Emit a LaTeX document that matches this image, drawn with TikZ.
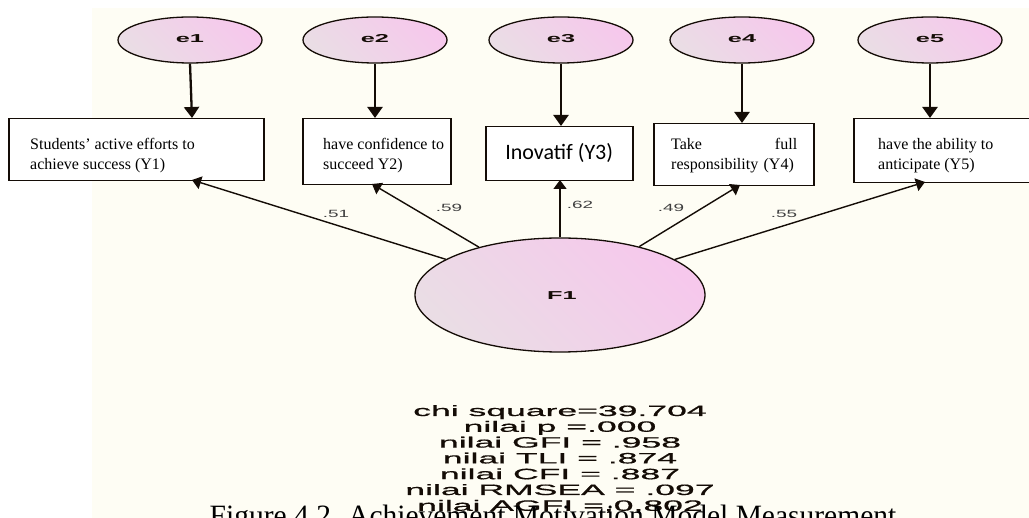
\documentclass[tikz,border=0pt]{standalone}
\usepackage{fontspec}
\usepackage{graphicx}
\setmainfont{Liberation Serif}
\newfontfamily\arial{Liberation Sans}
\newfontfamily\arialfb[FakeBold=0.6]{Liberation Sans}
\newfontfamily\calibri{Carlito}
\usetikzlibrary{arrows.meta,shapes.geometric}
\definecolor{cream}{RGB}{254,253,244}
\definecolor{pinkA}{RGB}{234,221,229}
\definecolor{pinkB}{RGB}{246,200,236}
\definecolor{ink}{RGB}{20,12,6}
\newcommand{\sx}[2]{\scalebox{#1}[1]{#2}}
\tikzset{
  errell/.style={ellipse, draw=ink, line width=1.3pt, minimum width=144pt, minimum height=46pt, inner sep=0pt,
    top color=pinkA, bottom color=pinkB, shading angle=135},
  latell/.style={ellipse, draw=ink, line width=1.3pt, minimum width=290pt, minimum height=114pt, inner sep=0pt,
    top color=pinkA, bottom color=pinkB, shading angle=135},
  ibox/.style={draw=ink, fill=white, line width=1.5pt, inner sep=0pt, anchor=north west},
  btxt/.style={anchor=base west, inner sep=0pt, align=left, font=\fontsize{16}{20}\selectfont},
  elab/.style={font=\arial\bfseries\fontsize{11.5}{11.5}\selectfont, text=ink, inner sep=0pt},
  plab/.style={font=\arial\fontsize{10.5}{10.5}\selectfont, text=black!75, inner sep=0pt},
  stat/.style={font=\arialfb\fontsize{15}{15}\selectfont, text=ink, inner sep=0pt, anchor=base},
  earrow/.style={draw=ink, line width=2.3pt, -{Triangle[width=15pt,length=11pt]}},
  farrow/.style={draw=ink, line width=1.4pt, -{Triangle[width=13pt,length=9pt]}},
}
\begin{document}
\begin{tikzpicture}[x=1pt,y=-1pt]
\useasboundingbox (0,0) rectangle (1029,518);
\fill[white] (0,0) rectangle (1029,518);
\fill[cream] (92,8) rectangle (1029,518);
% error ellipses
\node[errell] (e1) at (190,40) {};
\node[errell] (e2) at (375,40) {};
\node[errell] (e3) at (561,40) {};
\node[errell] (e4) at (742,40) {};
\node[errell] (e5) at (930,40) {};
\node[elab] (le1) at (190,39) {\sx{2.2}{e1}};
\node[elab] (le2) at (375,39) {\sx{2.2}{e2}};
\node[elab] (le3) at (561,39) {\sx{2.2}{e3}};
\node[elab] (le4) at (742,39) {\sx{2.2}{e4}};
\node[elab] (le5) at (930,39) {\sx{2.2}{e5}};
% boxes
\node[ibox, minimum width=255pt, minimum height=62pt] (y1) at (8,118) {};
\node[ibox, minimum width=148pt, minimum height=66pt] (y2) at (302,118) {};
\node[ibox, minimum width=147pt, minimum height=54pt] (y3) at (485,126) {};
\node[ibox, minimum width=160pt, minimum height=62pt] (y4) at (653,123) {};
\node[ibox, minimum width=180pt, minimum height=64pt] (y5) at (853,118) {};
\node[btxt] (t1) at (30,169.5) {Students' active efforts to\\achieve success (Y1)};
\node[btxt] (t2) at (323,169.5) {have confidence to\\succeed Y2)};
\node[anchor=center, inner sep=0pt, font=\calibri\fontsize{22}{22}\selectfont] (t3) at ([yshift=1pt]y3.center) {Inovatif (Y3)};
\node[btxt, text width=126pt] (t4) at (671,150) {Take\hfill full\\responsibility (Y4)};
\node[btxt] (t5) at (878,169.5) {have the ability to\\anticipate (Y5)};
% error arrows
\coordinate (b1) at (192,118);
\coordinate (b2) at (375,118);
\coordinate (b3) at (561,126);
\coordinate (b4) at (742,123);
\coordinate (b5) at (930,118);
\draw[earrow] (e1.south) -- (b1);
\draw[earrow] (e2.south) -- (b2);
\draw[earrow] (e3.south) -- (b3);
\draw[earrow] (e4.south) -- (b4);
\draw[earrow] (e5.south) -- (b5);
% latent
\node[latell] (F1) at (560,295) {};
\node[elab] (lF1) at (562,296) {\sx{2.2}{F1}};
\coordinate (p1) at (192,180);
\coordinate (p2) at (372,184);
\coordinate (p3) at (560,180);
\coordinate (p4) at (740,185);
\coordinate (p5) at (925,182);
\draw[farrow] (F1) -- (p1);
\draw[farrow] (F1) -- (p2);
\draw[farrow] (F1) -- (p3);
\draw[farrow] (F1) -- (p4);
\draw[farrow] (F1) -- (p5);
\node[plab] (l1) at (336,214) {\sx{1.8}{.51}};
\node[plab] (l2) at (449,208) {\sx{1.8}{.59}};
\node[plab] (l3) at (580,205) {\sx{1.8}{.62}};
\node[plab] (l4) at (671,208) {\sx{1.8}{.49}};
\node[plab] (l5) at (784,214) {\sx{1.8}{.55}};
% statistics
\node[stat] (s1) at (560,416) {\sx{2.37}{chi square=39.704}};
\node[stat] (s2) at (560,431.8) {\sx{2.37}{nilai p =.000}};
\node[stat] (s3) at (560,447.6) {\sx{2.37}{nilai GFI = .958}};
\node[stat] (s4) at (560,463.4) {\sx{2.37}{nilai TLI = .874}};
\node[stat] (s5) at (560,479.2) {\sx{2.37}{nilai CFI = .887}};
\node[stat] (s6) at (560,495) {\sx{2.37}{nilai RMSEA = .097}};
\node[stat] (s7) at (560,510.8) {\sx{2.37}{nilai AGFI =,0,802}};
% caption (cut by page edge)
\node[anchor=base, inner sep=0pt, font=\fontsize{29.5}{29.5}\selectfont] (cap) at (553,526) {Figure 4.2. Achievement Motivation Model Measurement};
\end{tikzpicture}
\end{document}
